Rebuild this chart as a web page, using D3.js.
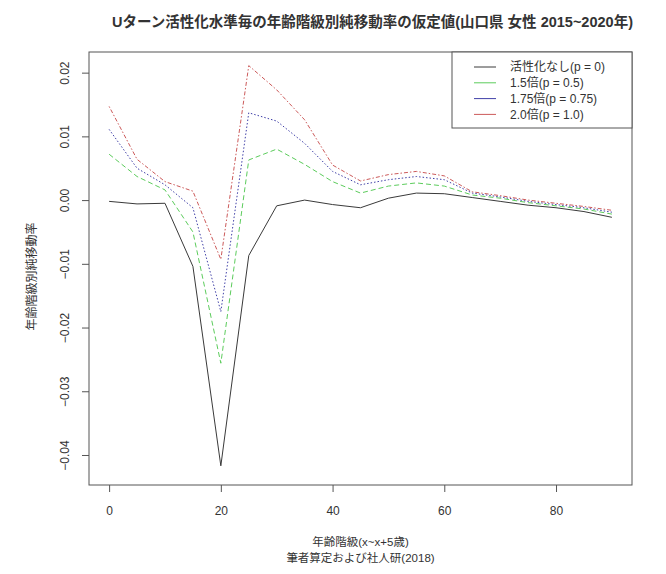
<!DOCTYPE html>
<html>
<head>
<meta charset="utf-8">
<script src="https://cdn.jsdelivr.net/npm/d3@7"></script>
<style>
  body { margin: 0; background: #fff; }
  svg text { font-family: "Liberation Sans", "Noto Sans CJK JP", sans-serif; fill: #333; }
</style>
</head>
<body>
<svg id="chart" width="666" height="574"></svg>
<script>
// 年齢階級 (x ~ x+5歳)
var ages = [0, 5, 10, 15, 20, 25, 30, 35, 40, 45, 50, 55, 60, 65, 70, 75, 80, 85, 90];

// 活性化水準ごとの純移動率
var p0   = [-0.0002, -0.0006, -0.0005, -0.0104, -0.0417, -0.0087, -0.0009, 0.0000, -0.0007, -0.0012,
            0.0003, 0.0011, 0.0010, 0.0004, -0.0002, -0.0008, -0.0012, -0.0018, -0.0027];
var p05  = [0.0072, 0.0037, 0.0016, -0.0050, -0.0256, 0.0063, 0.0080, 0.0056, 0.0029, 0.0011,
            0.0022, 0.0027, 0.0022, 0.0008, 0.0003, -0.0004, -0.0009, -0.0014, -0.0022];
var p075 = [0.0111, 0.0050, 0.0024, -0.0012, -0.0175, 0.0137, 0.0124, 0.0089, 0.0045, 0.0024,
            0.0032, 0.0037, 0.0032, 0.0011, 0.0005, -0.0002, -0.0007, -0.0012, -0.0019];
var p10  = [0.0147, 0.0064, 0.0029, 0.0014, -0.0093, 0.0211, 0.0173, 0.0126, 0.0055, 0.0030,
            0.0040, 0.0045, 0.0038, 0.0013, 0.0007, 0.0000, -0.0005, -0.0010, -0.0016];

var seriesNames = ['活性化なし(p = 0)', '1.5倍(p = 0.5)', '1.75倍(p = 0.75)', '2.0倍(p = 1.0)'];
var seriesColors = ['#3a3a3a', '#5ccc5c', '#4040a8', '#cc5a5a'];
var seriesDash = ['none', '5,3', '1.5,2', '1.5,2,4,2'];

var xTicks = [0, 20, 40, 60, 80];
var yTicks = [-0.04, -0.03, -0.02, -0.01, 0.00, 0.01, 0.02];

var svg = d3.select('#chart');

// プロット領域
var plotL = 89, plotR = 632, plotT = 52, plotB = 485;

var x = d3.scaleLinear().domain([-3.6, 93.6]).range([plotL, plotR]);
var y = d3.scaleLinear().domain([-0.04471, 0.02324]).range([plotB, plotT]);

// 枠
svg.append('rect')
    .attr('x', plotL).attr('y', plotT)
    .attr('width', plotR - plotL).attr('height', plotB - plotT)
    .attr('fill', 'none').attr('stroke', '#555').attr('stroke-width', 1);

// x軸
var xAxis = svg.append('g')
    .attr('transform', 'translate(0,' + plotB + ')')
    .call(d3.axisBottom(x).tickValues(xTicks).tickSize(7).tickPadding(14).tickFormat(d3.format('d')));
xAxis.select('.domain').remove();
xAxis.selectAll('line').attr('stroke', '#555');
xAxis.selectAll('text').attr('font-size', 12).attr('fill', '#444');

// y軸
var yAxis = svg.append('g')
    .attr('transform', 'translate(' + plotL + ',0)')
    .call(d3.axisLeft(y).tickValues(yTicks).tickSize(7).tickFormat(d3.format('.2f')));
yAxis.select('.domain').remove();
yAxis.selectAll('line').attr('stroke', '#555');
yAxis.selectAll('text')
    .attr('font-size', 12).attr('fill', '#444')
    .attr('text-anchor', 'middle')
    .attr('x', 0).attr('dy', 0)
    .attr('transform', 'translate(-20,0) rotate(-90)');

// 系列
var line = d3.line()
    .x(function(d) { return x(d[0]); })
    .y(function(d) { return y(d[1]); });

var allSeries = [p0, p05, p075, p10];
allSeries.forEach(function(vals, i) {
    svg.append('path')
        .datum(ages.map(function(a, j) { return [a, vals[j]]; }))
        .attr('d', line)
        .attr('fill', 'none')
        .attr('stroke', seriesColors[i])
        .attr('stroke-width', 1)
        .attr('stroke-dasharray', seriesDash[i]);
});

// 凡例
var lg = svg.append('g');
lg.append('rect')
    .attr('x', 452).attr('y', plotT)
    .attr('width', plotR - 452).attr('height', 76)
    .attr('fill', '#fff').attr('stroke', '#555');
seriesNames.forEach(function(name, i) {
    var ly = plotT + 15 + i * 15.8;
    lg.append('line')
        .attr('x1', 474).attr('x2', 496)
        .attr('y1', ly).attr('y2', ly)
        .attr('stroke', seriesColors[i]).attr('stroke-width', 1);
    lg.append('text')
        .attr('x', 510).attr('y', ly)
        .attr('dy', '0.35em')
        .attr('font-size', 12)
        .text(name);
});

// タイトル
svg.append('text')
    .attr('x', (plotL + plotR) / 2 + 12).attr('y', 27)
    .attr('text-anchor', 'middle')
    .attr('font-size', 14.5).attr('font-weight', 'bold')
    .attr('fill', '#222')
    .text('Uターン活性化水準毎の年齢階級別純移動率の仮定値(山口県 女性 2015~2020年)');

// 軸ラベル
svg.append('text')
    .attr('x', (plotL + plotR) / 2).attr('y', 546)
    .attr('text-anchor', 'middle').attr('font-size', 11.5)
    .text('年齢階級(x~x+5歳)');
svg.append('text')
    .attr('x', (plotL + plotR) / 2).attr('y', 562)
    .attr('text-anchor', 'middle').attr('font-size', 11.5)
    .text('筆者算定および社人研(2018)');

svg.append('text')
    .attr('transform', 'translate(36,' + ((plotT + plotB) / 2 + 8) + ') rotate(-90)')
    .attr('text-anchor', 'middle').attr('font-size', 12)
    .text('年齢階級別純移動率');
</script>
</body>
</html>
